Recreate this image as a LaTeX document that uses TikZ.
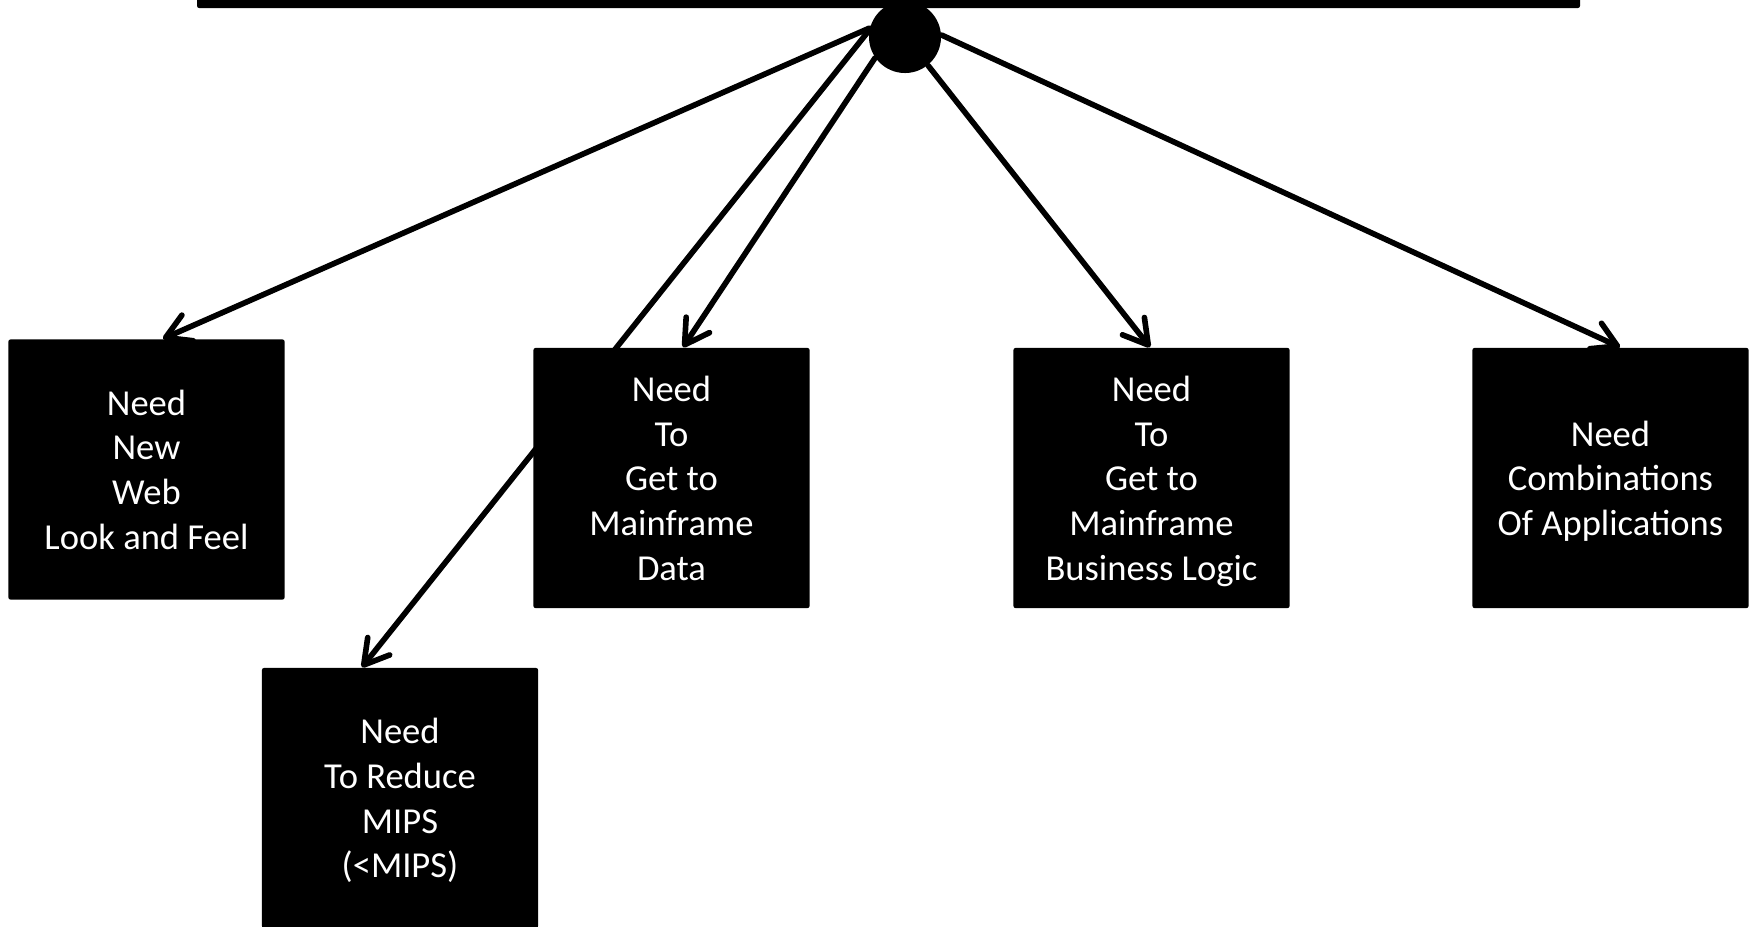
\documentclass[tikz,border=0pt]{standalone}
\usepackage{fontspec}
\setmainfont{Carlito}
\usetikzlibrary{arrows.meta, backgrounds}

\begin{document}
\begin{tikzpicture}[x=0.01cm, y=-0.01cm]

    % --- Dimensions ---
    \def\BoxW{2.76cm}
    \def\BoxH{2.60cm}

    % --- Styles ---
    \tikzset{
        needbox/.style={fill=black, text=white, rounded corners=0.6pt,
            minimum width=\BoxW, minimum height=\BoxH, inner sep=0pt,
            text depth=0pt, align=center, font=\fontsize{10.4}{12.7}\selectfont},
        feed/.style={line width=1.6pt, line cap=round, line join=round,
            -{Straight Barb[round, length=2.4mm, width=2.8mm]}}
    }

    % --- Page frame ---
    \path[use as bounding box] (0,0) rectangle (1754,927);
    \clip (0,0) rectangle (1754,927);

    % --- Top bar and hub ---
    \fill[black, rounded corners=0.6pt] (197,-10) rectangle (1580,8);
    \node[circle, fill=black, minimum size=0.72cm, inner sep=0pt] (hub) at (905,37) {};

    % --- Need boxes ---
    \node[needbox] (needweb) at (146.5,469.5) {Need\\New\\Web\\Look and Feel};
    \node[needbox] (needdata) at (671.5,478) {Need\\To\\Get to\\Mainframe\\Data};
    \node[needbox] (needlogic) at (1151.5,478) {Need\\To\\Get to\\Mainframe\\Business Logic};
    \node[needbox] (needcombo) at (1610.5,478) {Need\\Combinations\\Of Applications};
    \node[needbox] (needmips) at (400,798) {Need\\To Reduce\\MIPS\\(<MIPS)};

    % --- Arrows from the hub (behind the boxes) ---
    \begin{scope}[on background layer]
        \draw[feed] (hub.166) -- ([xshift=0.165cm]needweb.north);
        \draw[feed] (hub.170) -- ([xshift=-0.38cm]needmips.north);
        \draw[feed] (hub.215) -- ([xshift=0.115cm]needdata.north);
        \draw[feed] (hub.309) -- ([xshift=-0.015cm]needlogic.north);
        \draw[feed] (hub.3) -- ([xshift=0.095cm]needcombo.north);
    \end{scope}

\end{tikzpicture}
\end{document}
